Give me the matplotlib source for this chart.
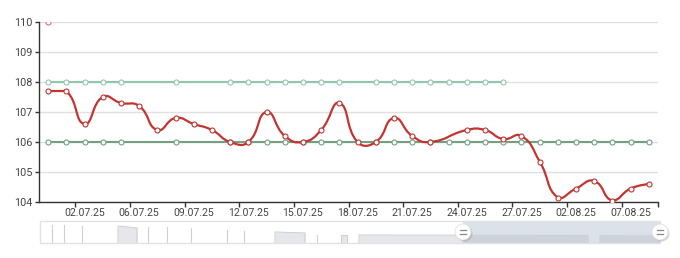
import numpy as np
import matplotlib.pyplot as plt
from matplotlib.path import Path
from matplotlib.patches import PathPatch, Rectangle, Circle

nan = np.nan

# categories (dates) shown in the zoomed window
dates = ["30.06.25", "01.07.25", "02.07.25", "03.07.25", "04.07.25", "06.07.25",
         "07.07.25", "08.07.25", "09.07.25", "10.07.25", "11.07.25", "12.07.25",
         "13.07.25", "14.07.25", "15.07.25", "16.07.25", "17.07.25", "18.07.25",
         "19.07.25", "20.07.25", "21.07.25", "22.07.25", "23.07.25", "24.07.25",
         "25.07.25", "26.07.25", "27.07.25", "29.07.25", "31.07.25", "02.08.25",
         "04.08.25", "05.08.25", "07.08.25", "08.08.25"]

price = [107.7, 107.7, 106.6, 107.5, 107.3, 107.2, 106.4, 106.8, 106.6, 106.4,
         106.0, 106.0, 107.0, 106.2, 106.0, 106.4, 107.3, 106.0, 106.0, 106.8,
         106.2, 106.0, nan, 106.4, 106.4, 106.1, 106.2, 105.35, 104.15, 104.45,
         104.7, 104.05, 104.45, 104.6]

upper = [108, 108, 108, 108, 108, nan, nan, 108, nan, nan,
         108, 108, 108, 108, 108, 108, 108, nan, 108, 108,
         108, 108, 108, 108, 108, 108, nan, nan, nan, nan,
         nan, nan, nan, nan]

lower = [106, 106, 106, 106, 106, nan, nan, 106, nan, nan,
         106, 106, 106, 106, 106, 106, 106, nan, 106, 106,
         106, 106, 106, 106, 106, 106, 106, 106, 106, 106,
         106, 106, 106, 106]

peak = [110] + [nan] * 33

# data shadow of the zoom slider (full history)
spike_pos = [12, 24, 42, 108, 127, 151, 187, 204, 277]
spike_val = [18, 18, 17, 16, 16, 15, 13, 12, 8]
block_start = [78, 235, 301, 319, 560]
block_end = [97, 265, 307, 548, 620]
block_val0 = [17, 11, 8, 8, 7.5]
block_val1 = [15, 10, 8, 7.5, 7]
window_start, window_end = 423, 620

RED = "#c23531"
MINT = "#91c7ae"
GREEN = "#749f83"
PINK = "#d9706b"
TXT = "#444444"


def smooth_path(xs, ys, sx, sy, smooth=0.5):
    # echarts-style bezier smoothing in pixel space, control points kept
    # inside the bounding box of the line
    px = np.asarray(xs, float) * sx
    py = np.asarray(ys, float) * sy
    lo = (px.min(), py.min())
    hi = (px.max(), py.max())

    def clamp(pt):
        return (min(max(pt[0], lo[0]), hi[0]), min(max(pt[1], lo[1]), hi[1]))

    n = len(px)
    cin, cout = [], []
    for i in range(n):
        if i == 0 or i == n - 1:
            cin.append((px[i], py[i]))
            cout.append((px[i], py[i]))
            continue
        vx = (px[i + 1] - px[i - 1]) * smooth
        vy = (py[i + 1] - py[i - 1]) * smooth
        d0 = np.hypot(px[i] - px[i - 1], py[i] - py[i - 1])
        d1 = np.hypot(px[i + 1] - px[i], py[i + 1] - py[i])
        s = d0 + d1
        d0, d1 = d0 / s, d1 / s
        cin.append(clamp((px[i] - vx * d0, py[i] - vy * d0)))
        cout.append(clamp((px[i] + vx * d1, py[i] + vy * d1)))
    verts = [(px[0], py[0])]
    codes = [Path.MOVETO]
    for i in range(n - 1):
        verts += [cout[i], cin[i + 1], (px[i + 1], py[i + 1])]
        codes += [Path.CURVE4] * 3
    verts = [(x / sx, y / sy) for x, y in verts]
    return Path(verts, codes)


fig = plt.figure(figsize=(6.8, 2.58), dpi=100)
ax = fig.add_axes([39 / 680, 56 / 258, 619 / 680, 180 / 258])

x = np.arange(len(dates))
ax.set_xlim(-0.5, len(dates) - 0.5)
ax.set_ylim(104, 110)

# gridlines
ax.set_yticks(range(104, 111))
ax.yaxis.grid(True, color="#e0e0e0", lw=1)
ax.set_axisbelow(True)

# flat reference lines
for vals, col in [(upper, MINT), (lower, GREEN)]:
    v = np.array(vals, float)
    m = ~np.isnan(v)
    ax.plot(x[m], v[m], color=col, lw=1.5, zorder=2)
    ax.plot(x[m], v[m], ls="none", marker="o", ms=3.6, mfc="white",
            mec=col, mew=0.8, zorder=3)

# smoothed price line
p = np.array(price, float)
m = ~np.isnan(p)
sx = 619 / len(dates)
sy = 180 / 6
ax.add_patch(PathPatch(smooth_path(x[m], p[m], sx, sy), fc="none",
                       ec=RED, lw=1.6, zorder=4, capstyle="round"))
ax.plot(x[m], p[m], ls="none", marker="o", ms=3.6, mfc="white",
        mec=RED, mew=0.8, zorder=5)

pk = np.array(peak, float)
ax.plot(x, pk, ls="none", marker="o", ms=3.6, mfc="white", mec=PINK,
        mew=0.8, zorder=5)

# axes styling
for s in ["top", "right"]:
    ax.spines[s].set_visible(False)
for s in ["left", "bottom"]:
    ax.spines[s].set_color("#333333")
    ax.spines[s].set_linewidth(1)

label_idx = list(range(2, len(dates), 3))
ax.set_xticks([i - 0.5 for i in label_idx] + [len(dates) - 0.5])
ax.set_xticklabels([])
ax.set_xticks(label_idx, minor=True)
ax.set_xticklabels([dates[i] for i in label_idx], minor=True)
ax.tick_params(axis="x", which="major", length=3.5, color="#333333", width=1)
ax.tick_params(axis="x", which="minor", length=0, pad=4,
               labelsize=7.6, labelcolor=TXT)
ax.tick_params(axis="y", length=3, color="#333333", width=1, pad=2,
               labelsize=7.8, labelcolor=TXT)
for lab in ax.get_xticklabels(minor=True) + ax.get_yticklabels():
    lab.set_fontfamily("Roboto")

# zoom slider
sl = fig.add_axes([40 / 680, 15 / 258, 620 / 680, 22 / 258])
sl.set_xlim(0, 620)
sl.set_ylim(0, 22)
sl.axis("off")

for xs, h in zip(spike_pos, spike_val):
    sl.plot([xs, xs], [0, h], color="#d0d0d0", lw=0.8)
for a, b, h0, h1 in zip(block_start, block_end, block_val0, block_val1):
    sl.fill_between([a, b], [h0, h1], 0, color="#e6e7ea", lw=0)
    sl.plot([a, a, b, b], [0, h0, h1, 0], color="#d0d0d0", lw=0.8)

sl.add_patch(Rectangle((window_start, 0), window_end - window_start, 22,
                       fc=(167 / 255, 183 / 255, 203 / 255, 0.4), ec="none"))
sl.add_patch(Rectangle((0, 0), 620, 22, fc="none", ec="#e2e2e2", lw=1,
                       clip_on=False))

for cx in [window_start, window_end]:
    sl.add_patch(Circle((cx + 1.5, 9.5), 8, fc="#888888", alpha=0.35,
                        ec="none", clip_on=False, zorder=5))
    sl.add_patch(Circle((cx, 11), 8, fc="white", ec="#dddddd", lw=0.5,
                        clip_on=False, zorder=6))
    for dy in (-1.6, 1.6):
        sl.plot([cx - 3, cx + 3], [11 + dy, 11 + dy], color="#888888",
                lw=0.9, clip_on=False, zorder=7)

fig.savefig("out.png", dpi=100)
